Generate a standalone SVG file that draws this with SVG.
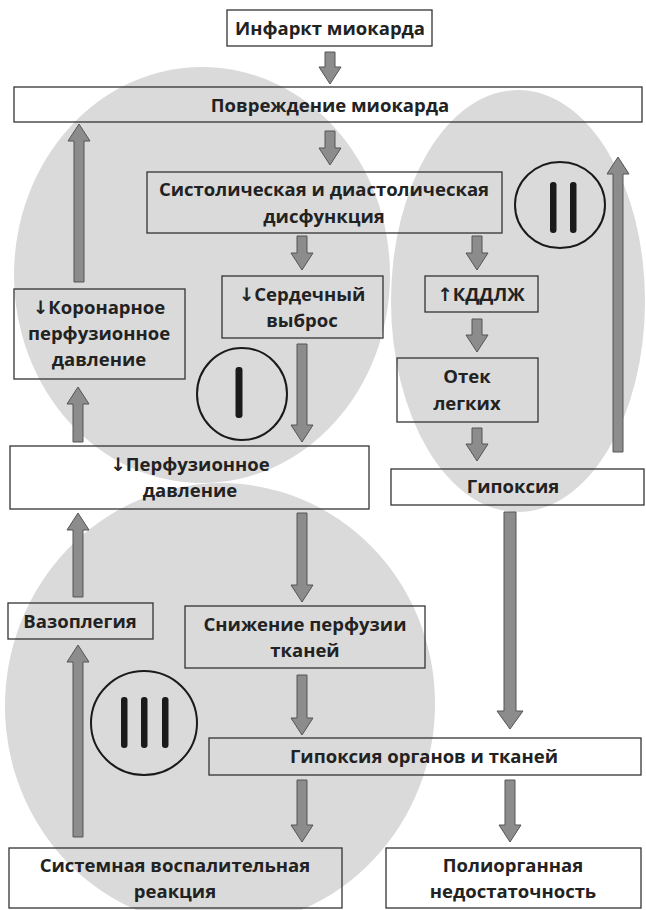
<svg xmlns="http://www.w3.org/2000/svg" width="646" height="910" viewBox="0 0 646 910">
<style>
.bg{fill:#dadada;stroke:none}
.box{fill:none;stroke:#333;stroke-width:1.3}
.t{font-family:"Open Sans","Liberation Sans",sans-serif;font-weight:700;font-size:18.5px;fill:#222;text-anchor:middle}
.ar{font-family:"DejaVu Sans",sans-serif;font-weight:700}
.arr{fill:#8c8c8c;stroke:#555;stroke-width:1}
.ring{fill:none;stroke:#1a1a1a;stroke-width:2}
.bar{fill:#1a1a1a}
</style>
<rect width="646" height="910" fill="#fff"/>
<g id="zones">
<ellipse class="bg" cx="202" cy="275" rx="188" ry="208"/>
<ellipse class="bg" cx="518" cy="301" rx="127" ry="211"/>
<ellipse class="bg" cx="220" cy="705" rx="215" ry="222" transform="rotate(5 220 705)"/>
</g>
<g id="markers">
<g id="circle-I"><ellipse class="ring" cx="242" cy="394" rx="45" ry="46"/><rect class="bar" x="235.5" y="367" width="7" height="51" rx="3"/></g>
<g id="circle-II"><ellipse class="ring" cx="560" cy="205" rx="45" ry="43"/><rect class="bar" x="550" y="182" width="6.5" height="51" rx="3"/><rect class="bar" x="570" y="182" width="6.5" height="51" rx="3"/></g>
<g id="circle-III"><ellipse class="ring" cx="144" cy="723" rx="53" ry="52"/><rect class="bar" x="121" y="697" width="6.5" height="51" rx="3"/><rect class="bar" x="141" y="697" width="6.5" height="51" rx="3"/><rect class="bar" x="162" y="697" width="6.5" height="51" rx="3"/></g>
</g>
<g id="connectors">
<polygon class="arr" points="325,52 335,52 335,67 341,67 330,84 319,67 325,67"/>
<polygon class="arr" points="325,131 335,131 335,148 341,148 330,165 319,148 325,148"/>
<polygon class="arr" points="297,236 307,236 307,253 313,253 302,270 291,253 297,253"/>
<polygon class="arr" points="472,236 482,236 482,253 488,253 477,270 466,253 472,253"/>
<polygon class="arr" points="472,319 482,319 482,335 488,335 477,352 466,335 472,335"/>
<polygon class="arr" points="472,428 482,428 482,444 488,444 477,461 466,444 472,444"/>
<polygon class="arr" points="613,452 623,452 623,174 629,174 618,157 607,174 613,174"/>
<polygon class="arr" points="74,282 84,282 84,141 90,141 79,124 68,141 74,141"/>
<polygon class="arr" points="297,344 307,344 307,425 313,425 302,442 291,425 297,425"/>
<polygon class="arr" points="73,442 83,442 83,404 89,404 78,387 67,404 73,404"/>
<polygon class="arr" points="297,513 307,513 307,585 313,585 302,602 291,585 297,585"/>
<polygon class="arr" points="73,597 83,597 83,530 89,530 78,513 67,530 73,530"/>
<polygon class="arr" points="73,837 83,837 83,662 89,662 78,645 67,662 73,662"/>
<polygon class="arr" points="297,675 307,675 307,718 313,718 302,735 291,718 297,718"/>
<polygon class="arr" points="504,512 516,512 516,711 523,711 510,729 497,711 504,711"/>
<polygon class="arr" points="297,780 307,780 307,825 313,825 302,842 291,825 297,825"/>
<polygon class="arr" points="505,780 515,780 515,825 521,825 510,842 499,825 505,825"/>
</g>
<g id="n-infarkt"><rect class="box" x="227" y="10" width="205" height="36"/><text class="t" x="330" y="35">Инфаркт миокарда</text></g>
<g id="n-povrezhdenie"><rect class="box" x="14" y="87" width="628" height="35"/><text class="t" x="330" y="112">Повреждение миокарда</text></g>
<g id="n-sist"><rect class="box" x="147" y="172" width="355" height="61"/><text class="t" x="324" y="196">Систолическая и диастолическая</text><text class="t" x="324" y="223">дисфункция</text></g>
<g id="n-serd"><rect class="box" x="222" y="276" width="161" height="62"/><text class="t" x="302" y="301"><tspan class="ar">↓</tspan>Сердечный</text><text class="t" x="302" y="327">выброс</text></g>
<g id="n-kddlzh"><rect class="box" x="425" y="276" width="113" height="36"/><text class="t" x="481" y="301"><tspan class="ar">↑</tspan>КДДЛЖ</text></g>
<g id="n-koron"><rect class="box" x="14" y="289" width="171" height="90"/><text class="t" x="99" y="314"><tspan class="ar">↓</tspan>Коронарное</text><text class="t" x="99" y="340">перфузионное</text><text class="t" x="99" y="366">давление</text></g>
<g id="n-otek"><rect class="box" x="397" y="358" width="141" height="64"/><text class="t" x="467" y="383">Отек</text><text class="t" x="467" y="410">легких</text></g>
<g id="n-perf"><rect class="box" x="10" y="446" width="359" height="63"/><text class="t" x="190" y="471"><tspan class="ar">↓</tspan>Перфузионное</text><text class="t" x="190" y="497">давление</text></g>
<g id="n-gipoksia"><rect class="box" x="391" y="469" width="253" height="36"/><text class="t" x="513" y="493">Гипоксия</text></g>
<g id="n-vazo"><rect class="box" x="8" y="603" width="145" height="36"/><text class="t" x="80" y="628">Вазоплегия</text></g>
<g id="n-snizh"><rect class="box" x="185" y="606" width="240" height="62"/><text class="t" x="305" y="631">Снижение перфузии</text><text class="t" x="305" y="657">тканей</text></g>
<g id="n-gip-org"><rect class="box" x="209" y="738" width="432" height="37"/><text class="t" x="424" y="763">Гипоксия органов и тканей</text></g>
<g id="n-sistemn"><rect class="box" x="9" y="848" width="333" height="60"/><text class="t" x="175" y="872">Системная воспалительная</text><text class="t" x="175" y="898">реакция</text></g>
<g id="n-poliorg"><rect class="box" x="386" y="848" width="255" height="60"/><text class="t" x="513" y="872">Полиорганная</text><text class="t" x="513" y="898">недостаточность</text></g>
</svg>
